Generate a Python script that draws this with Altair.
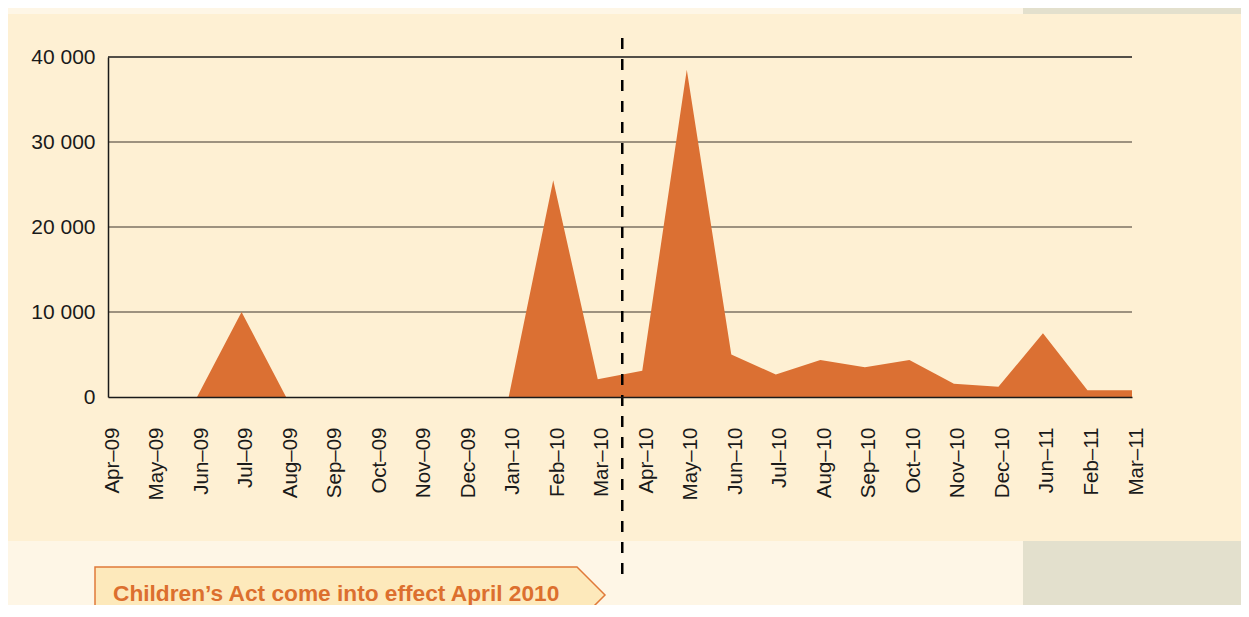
import altair as alt
import pandas as pd

# ---- data ----
months = ["Apr–09", "May–09", "Jun–09", "Jul–09", "Aug–09", "Sep–09", "Oct–09",
          "Nov–09", "Dec–09", "Jan–10", "Feb–10", "Mar–10", "Apr–10", "May–10",
          "Jun–10", "Jul–10", "Aug–10", "Sep–10", "Oct–10", "Nov–10", "Dec–10",
          "Jun–11", "Feb–11", "Mar–11"]
values = [0, 0, 0, 10000, 0, 0, 0, 0, 0, 0, 25500, 2100, 3100, 38500,
          5000, 2650, 4350, 3500, 4350, 1550, 1200, 7500, 800, 800]
y_ticks = [0, 10000, 20000, 30000, 40000]
event_month = ["Apr–10"]
annotation = ["Children’s Act come into effect April 2010"]

# ---- layout / style ----
W, H = 1024, 340
PAD = {"left": 100, "top": 49, "right": 109, "bottom": 208}
OUTER_BG = "#fef6e6"
PANEL_BG = "#fef0d3"
SIDE_GRAY = "#e3e0cd"
AREA_COLOR = "#db7033"
TEXT_COLOR = "#1a1a1a"
FONT = "Liberation Sans"

df = pd.DataFrame({"month": months, "value": values})
grid_df = pd.DataFrame({"v": y_ticks})
event_df = pd.DataFrame({"month": event_month})
note_df = pd.DataFrame({"label": annotation})
one = pd.DataFrame({"a": [0]})

x_scale = alt.Scale(type="point", domain=months, padding=0)
y_scale = alt.Scale(domain=[0, 40000], nice=False)

x_axis = alt.Axis(title=None, labelAngle=-90, labelAlign="right",
                  labelBaseline="middle", labelPadding=30, labelOffset=4, ticks=False,
                  domainColor="#1a1a1a", domainWidth=1.5,
                  labelFont=FONT, labelFontSize=20.5, labelColor=TEXT_COLOR,
                  labelOverlap=False, zindex=1)
y_axis = alt.Axis(title=None, values=y_ticks, grid=False, ticks=False,
                  domainColor="#1a1a1a", domainWidth=1.5,
                  labelExpr="replace(format(datum.value, ','), ',', ' ')",
                  labelPadding=13, labelFont=FONT, labelFontSize=21,
                  labelColor=TEXT_COLOR, zindex=1)

panel = alt.Chart(one).mark_rect(color=PANEL_BG).encode(
    x=alt.value(-100), x2=alt.value(W + PAD["right"]),
    y=alt.value(-43), y2=alt.value(484))

gray_top = alt.Chart(one).mark_rect(color=SIDE_GRAY).encode(
    x=alt.value(915), x2=alt.value(W + PAD["right"]),
    y=alt.value(-PAD["top"]), y2=alt.value(-43))

gray_bottom = alt.Chart(one).mark_rect(color=SIDE_GRAY).encode(
    x=alt.value(915), x2=alt.value(W + PAD["right"]),
    y=alt.value(484), y2=alt.value(H + PAD["bottom"]))

grid = alt.Chart(grid_df).transform_filter("datum.v > 0").mark_rule(strokeWidth=1.5).encode(
    y=alt.Y("v:Q", scale=y_scale, axis=y_axis),
    x=alt.value(0), x2=alt.value(W),
    color=alt.condition("datum.v == 40000", alt.value("#1a1a1a"), alt.value("#7c7363")))

area = alt.Chart(df).mark_area(color=AREA_COLOR, opacity=1).encode(
    x=alt.X("month:O", scale=x_scale, sort=months, axis=x_axis),
    y=alt.Y("value:Q", scale=y_scale, axis=y_axis))

event_rule = alt.Chart(event_df).mark_rule(
    color="black", strokeWidth=2.5, strokeDash=[11, 10], xOffset=-20).encode(
    x=alt.X("month:O", scale=x_scale, sort=months, axis=x_axis),
    y=alt.value(-19), y2=alt.value(521))

tag_path = "M -255 -28 L 227 -28 L 255 0 L 227 28 L -255 28 Z"
tag = alt.Chart(one).mark_point(
    shape=tag_path, size=4, filled=True, fill="#fde9bb", stroke="#e07a3a",
    strokeWidth=1.5, opacity=1).encode(x=alt.value(242), y=alt.value(538))

note = alt.Chart(note_df).mark_text(
    align="left", baseline="alphabetic", font=FONT, fontWeight="bold",
    fontSize=22.7, color="#dc6f2e").encode(
    x=alt.value(5), y=alt.value(544), text="label:N")

chart = alt.layer(panel, gray_top, gray_bottom, grid, area, event_rule, tag, note).properties(
    width=W, height=H, padding=PAD,
    autosize=alt.AutoSizeParams(type="none"),
    background=OUTER_BG,
).configure_view(stroke=None)

chart.save("out.html", embed_options={"renderer": "svg", "actions": False})
